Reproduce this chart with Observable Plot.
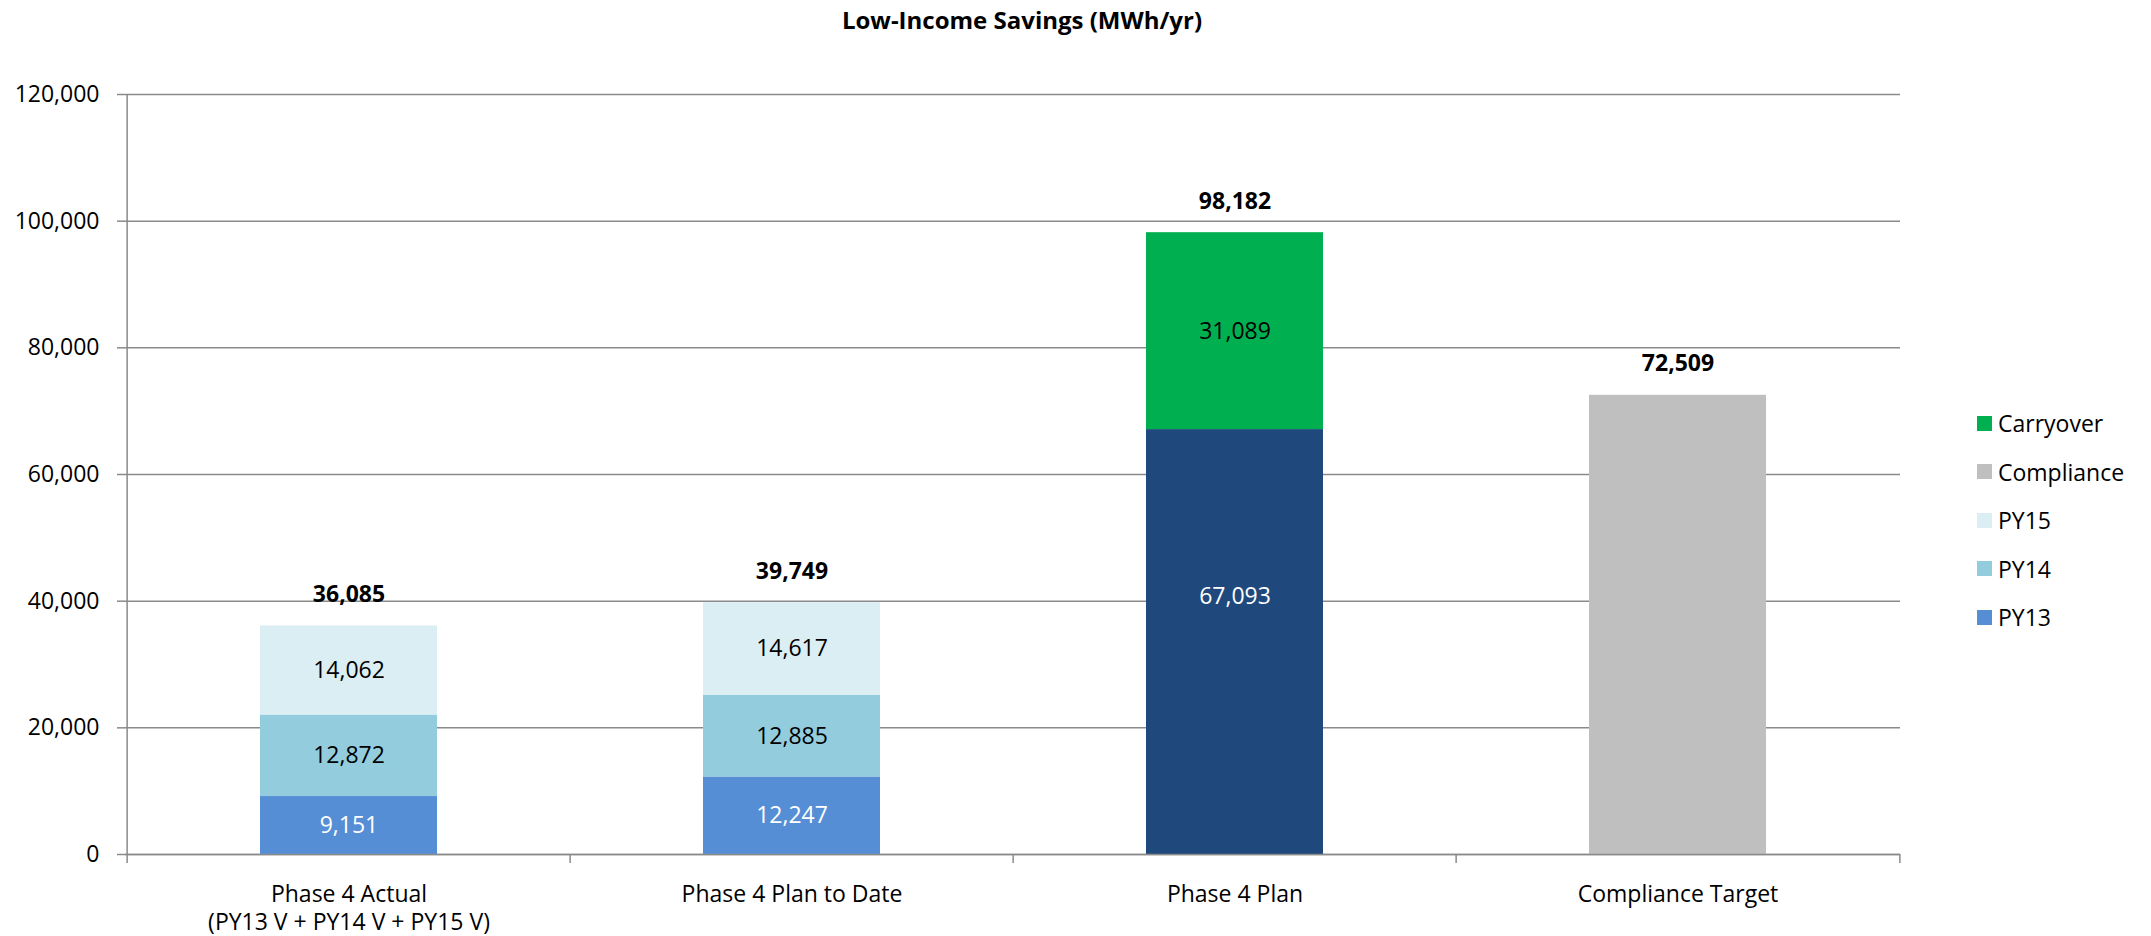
<!DOCTYPE html>
<html>
<head>
<meta charset="utf-8">
<script src="https://cdn.jsdelivr.net/npm/d3@7"></script>
<script src="https://cdn.jsdelivr.net/npm/@observablehq/plot@0.6"></script>
<style>
  html, body { margin: 0; padding: 0; background: #fff; }
  body { width: 2151px; height: 936px; position: relative; overflow: hidden; font-family: "Open Sans", sans-serif; }
  #title { position: absolute; top: 8px; left: 422px; width: 1200px; text-align: center; font-weight: bold; font-size: 24px; line-height: 24px; color: #000; }
  #chart { position: absolute; top: 40px; left: 0; }
  #legend { position: absolute; left: 1977px; top: 399px; }
  .item { display: flex; align-items: center; height: 48.5px; font-size: 23px; color: #000; }
  .sw { width: 15px; height: 15px; margin-right: 6px; }
</style>
</head>
<body>
<div id="title">Low-Income Savings (MWh/yr)</div>
<div id="chart"></div>
<div id="legend"></div>
<script>
// ---- data ----
const categories = [
  "Phase 4 Actual\n(PY13 V + PY14 V + PY15 V)",
  "Phase 4 Plan to Date",
  "Phase 4 Plan",
  "Compliance Target"
];
const seriesNames = ["PY13", "PY14", "PY15", "Plan", "Carryover", "Compliance"];
const py13 = [9151, 12247, null, null];
const py14 = [12872, 12885, null, null];
const py15 = [14062, 14617, null, null];
const plan = [null, null, 67093, null];
const carryover = [null, null, 31089, null];
const compliance = [null, null, null, 72509];
const totals = [36085, 39749, 98182, 72509];
const yTicks = [0, 20000, 40000, 60000, 80000, 100000, 120000];

const seriesColors = ["#558ED5", "#93CDDD", "#DBEEF4", "#1F497D", "#00B050", "#BFBFBF"];
const legendNames = ["Carryover", "Compliance", "PY15", "PY14", "PY13"];

// ---- table ----
const seriesValues = { PY13: py13, PY14: py14, PY15: py15, Plan: plan, Carryover: carryover, Compliance: compliance };
const rows = [];
categories.forEach((c, i) => {
  seriesNames.forEach(s => {
    const v = seriesValues[s][i];
    if (v != null) rows.push({ cat: c, series: s, value: v });
  });
});
const totalRows = categories.map((c, i) => ({ cat: c, total: totals[i] }));

const W = 2151, H = 896, ML = 125, MR = 251, MT = 54, MB = 82;
const step = (W - ML - MR) / categories.length;
const fmt = d3.format(",");
const gray = "#8a8a8a";
const stackOpts = { x: "cat", y: "value", z: "series", order: seriesNames, fontSize: 23 };

const chart = Plot.plot({
  width: W,
  height: H,
  marginLeft: ML,
  marginRight: MR,
  marginTop: MT,
  marginBottom: MB,
  style: { fontFamily: "Open Sans, sans-serif", fontSize: "23px", color: "#000", background: "#fff" },
  x: { domain: categories, padding: 0, label: null },
  y: { domain: [0, 120000], label: null },
  color: { domain: seriesNames, range: seriesColors },
  marks: [
    Plot.gridY(yTicks, { stroke: gray, strokeOpacity: 1, strokeWidth: 1.5 }),
    Plot.barY(rows, { x: "cat", y: "value", fill: "series", order: seriesNames, insetLeft: 133, insetRight: 133 }),
    // white labels
    Plot.text(rows, Plot.stackY({ ...stackOpts, text: d => d.series === "PY13" ? fmt(d.value) : null, fill: "white" })),
    Plot.text(rows, Plot.stackY({ ...stackOpts, text: d => d.series === "Plan" ? fmt(d.value) : null, fill: "white", dy: -45 })),
    // black labels
    Plot.text(rows, Plot.stackY({ ...stackOpts,
      text: d => (d.series === "PY14" || d.series === "PY15" || d.series === "Carryover") ? fmt(d.value) : null, fill: "black" })),
    Plot.text(totalRows, { x: "cat", y: "total", text: d => fmt(d.total), lineAnchor: "bottom", dy: -24, fontWeight: "bold", fontSize: 23, fill: "black" }),
    // axis lines
    Plot.ruleY([0], { stroke: gray, strokeWidth: 1.5 }),
    Plot.ruleX([categories[0]], { x: d => d, dx: -step / 2, y1: 0, y2: 120000, stroke: gray, strokeWidth: 1.5 }),
    // category boundary ticks
    Plot.ruleX(categories, { x: d => d, dx: -step / 2, y1: 0, y2: 0, insetTop: 9, stroke: gray, strokeWidth: 1.5 }),
    Plot.ruleX([categories[categories.length - 1]], { x: d => d, dx: step / 2, y1: 0, y2: 0, insetTop: 9, stroke: gray, strokeWidth: 1.5 }),
    Plot.axisY(yTicks, { tickSize: 8, tickPadding: 18, tickFormat: fmt, stroke: gray, strokeWidth: 1.5, fontSize: 23, fill: "black" }),
    Plot.axisX({ tickSize: 0, tickPadding: 28, lineHeight: 1.2, fontSize: 23, fill: "black" })
  ]
});
document.getElementById("chart").appendChild(chart);

// ---- legend ----
const legend = document.getElementById("legend");
legendNames.forEach(name => {
  const item = document.createElement("div");
  item.className = "item";
  const sw = document.createElement("div");
  sw.className = "sw";
  sw.style.background = seriesColors[seriesNames.indexOf(name)];
  const label = document.createElement("span");
  label.textContent = name;
  item.appendChild(sw);
  item.appendChild(label);
  legend.appendChild(item);
});
</script>
</body>
</html>
